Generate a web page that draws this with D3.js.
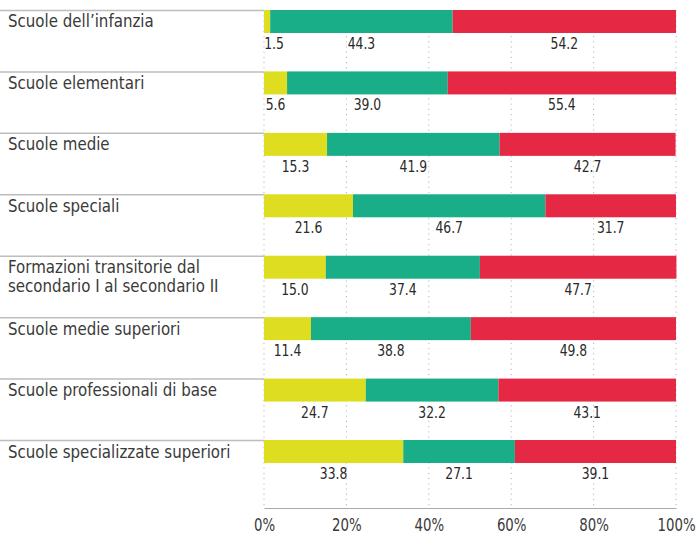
<!DOCTYPE html>
<html>
<head>
<meta charset="utf-8">
<script src="https://cdn.jsdelivr.net/npm/d3@7"></script>
<style>
  html, body { margin: 0; padding: 0; background: #fff; }
  svg { display: block; }
  text { font-family: "DejaVu Sans Condensed", "DejaVu Sans", sans-serif; }
</style>
</head>
<body>
<svg id="chart" width="698" height="536"></svg>
<script>
// School types (line breaks mark two-line labels)
const categories = [
  "Scuole dell\u2019infanzia",
  "Scuole elementari",
  "Scuole medie",
  "Scuole speciali",
  "Formazioni transitorie dal\nsecondario I al secondario II",
  "Scuole medie superiori",
  "Scuole professionali di base",
  "Scuole specializzate superiori"
];
// Shares per school type, in percent
const yellowValues = [1.5, 5.6, 15.3, 21.6, 15.0, 11.4, 24.7, 33.8];
const greenValues  = [44.3, 39.0, 41.9, 46.7, 37.4, 38.8, 32.2, 27.1];
const redValues    = [54.2, 55.4, 42.7, 31.7, 47.7, 49.8, 43.1, 39.1];
const tickValues = [0, 20, 40, 60, 80, 100];
const tickLabels = ["0%", "20%", "40%", "60%", "80%", "100%"];

const seriesColors = ["#dfdd20", "#19ae87", "#e52944"];
const seriesValues = [yellowValues, greenValues, redValues];

const svg = d3.select("#chart");
const x = d3.scaleLinear().domain([0, 100]).range([264, 676]);
const y = d3.scaleBand().domain(categories).range([10, 10 + 61.43 * 8]).paddingInner(0).paddingOuter(0);
const barH = 23;
const axisY = 508;

// Dotted vertical gridlines
svg.append("g").selectAll("line").data(tickValues).join("line")
  .attr("x1", d => x(d)).attr("x2", d => x(d))
  .attr("y1", 10).attr("y2", axisY)
  .attr("stroke", "#b5b5b5").attr("stroke-width", 1)
  .attr("stroke-dasharray", "1.2,4");

// Build stacked rows
const rows = categories.map((c, i) => {
  let acc = 0;
  return seriesValues.map((vals, s) => {
    const start = acc;
    acc += vals[i];
    return { cat: c, s, start, end: acc, value: vals[i] };
  });
});

// Separator lines above each category label
svg.append("g").selectAll("line").data(categories).join("line")
  .attr("x1", 0).attr("x2", x(0))
  .attr("y1", d => y(d) + 0.5).attr("y2", d => y(d) + 0.5)
  .attr("stroke", "#bdbdbd").attr("stroke-width", 1.5);

// Bars
const barG = svg.append("g");
rows.forEach(row => {
  barG.selectAll(null).data(row).join("rect")
    .attr("x", d => x(d.start))
    .attr("y", d => y(d.cat))
    .attr("width", d => x(d.end) - x(d.start))
    .attr("height", barH)
    .attr("fill", d => seriesColors[d.s]);
});

// Value labels under each segment (narrowed type)
const labG = svg.append("g");
rows.forEach(row => {
  labG.selectAll(null).data(row).join("g")
    .attr("transform", d => {
      const cx = Math.max(x((d.start + d.end) / 2), x(0) + 10);
      return `translate(${cx},${y(d.cat) + barH + 16}) scale(0.86,1)`;
    })
    .append("text")
    .attr("text-anchor", "middle")
    .attr("font-size", 16)
    .attr("fill", "#2a2a2a")
    .text(d => d.value.toFixed(1));
});

// Category labels
const catG = svg.append("g").attr("transform", "translate(8,0) scale(0.955,1)");
categories.forEach(c => {
  const lines = c.split("\n");
  const t = catG.append("text")
    .attr("x", 0)
    .attr("y", y(c) + 17.5)
    .attr("font-size", 17.5)
    .attr("fill", "#3a3a3a");
  lines.forEach((ln, k) => {
    t.append("tspan").attr("x", 0).attr("dy", k === 0 ? 0 : 19).text(ln);
  });
});

// Bottom axis
const axis = d3.axisBottom(x).tickValues(tickValues)
  .tickFormat((d, i) => tickLabels[i]).tickSize(0).tickPadding(10);
const axG = svg.append("g").attr("transform", `translate(0,${axisY})`).call(axis);
axG.select(".domain").attr("stroke", "#aaa").attr("stroke-width", 1.2);
axG.selectAll("text")
  .attr("font-family", "\"DejaVu Sans Condensed\", sans-serif")
  .attr("font-size", 18.5).attr("fill", "#3a3a3a")
  .attr("transform", "scale(0.8,1)");
</script>
</body>
</html>
